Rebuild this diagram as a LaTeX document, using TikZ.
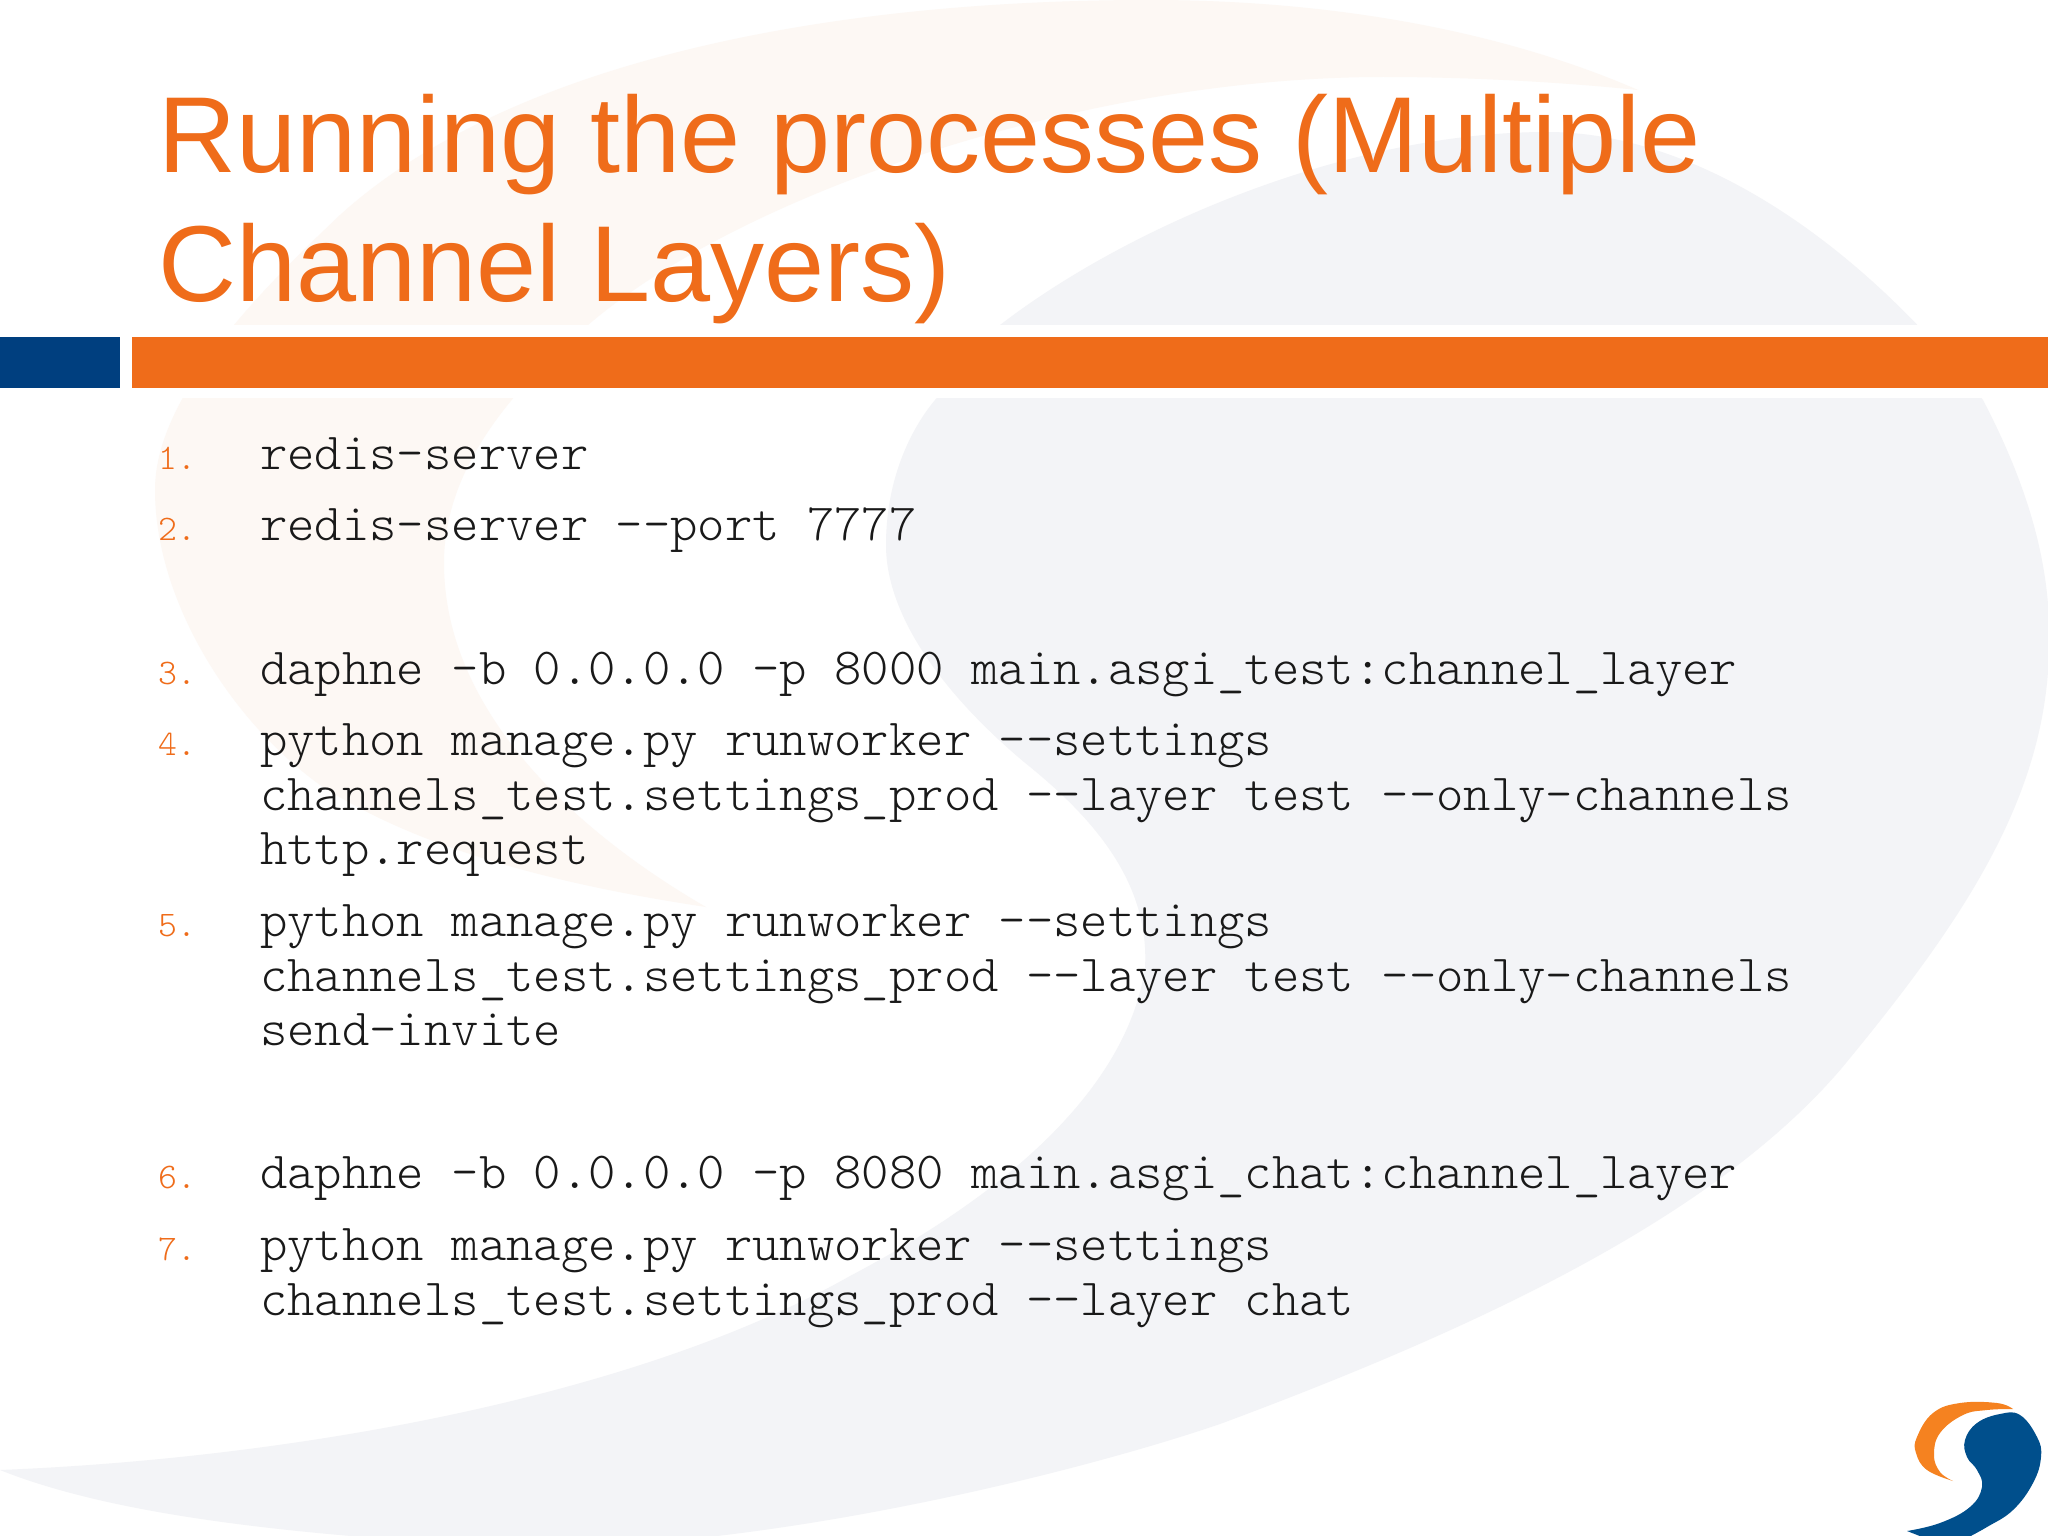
\documentclass[tikz,border=0pt]{standalone}
\usepackage{fontspec}
\setmainfont{Liberation Sans}
\newfontfamily\codefont{Latin Modern Mono Light}
\definecolor{slideorange}{HTML}{EF6C1A}
\definecolor{slideblue}{HTML}{003F7F}
\definecolor{wmorange}{HTML}{FDF8F4}
\definecolor{wmblue}{HTML}{F3F4F7}
\definecolor{logoorange}{HTML}{F58220}
\definecolor{logoblue}{HTML}{004F8C}
\tikzset{
  titleline/.style={anchor=base west,inner sep=0pt,text=slideorange,font=\fontsize{108}{130}\selectfont},
  codeline/.style={anchor=base west,inner sep=0pt,text=black!90,font=\codefont\fontsize{52.1}{54.5}\selectfont},
  numline/.style={anchor=base west,inner sep=0pt,text=slideorange,font=\codefont\fontsize{36}{40}\selectfont},
}
\begin{document}
\begin{tikzpicture}[x=1pt,y=-1pt]
\useasboundingbox (0,0) rectangle (2048,1536);
\clip (0,0) rectangle (2048,1536);
\fill[white] (0,0) rectangle (2048,1536);
% watermark: orange crescent
\fill[wmorange] (1638,90) .. controls (1500,30) and (1330,0) .. (1150,0)
  .. controls (800,0) and (500,70) .. (340,215)
  .. controls (250,300) and (155,400) .. (155,490)
  .. controls (155,600) and (230,720) .. (320,785)
  .. controls (420,850) and (560,885) .. (706,907)
  .. controls (590,840) and (444,720) .. (444,563)
  .. controls (444,470) and (510,390) .. (588,325)
  .. controls (740,195) and (1080,77) .. (1383,77)
  .. controls (1470,77) and (1560,82) .. (1638,90) -- cycle;
% watermark: blue swoosh
\fill[wmblue] (0,1470) .. controls (300,1458) and (640,1395) .. (850,1276)
  .. controls (985,1205) and (1125,1100) .. (1145,968)
  .. controls (1150,880) and (1090,815) .. (1024,762)
  .. controls (950,700) and (886,620) .. (886,545)
  .. controls (886,480) and (910,430) .. (935,400)
  -- (1000,325)
  .. controls (1130,225) and (1350,132) .. (1547,132)
  .. controls (1680,132) and (1840,220) .. (1983,400)
  .. controls (2030,490) and (2052,570) .. (2049,650)
  .. controls (2046,800) and (1960,925) .. (1841,1069)
  .. controls (1720,1210) and (1500,1320) .. (1220,1424)
  .. controls (1100,1465) and (850,1530) .. (620,1545)
  -- (430,1542)
  .. controls (250,1530) and (100,1510) .. (0,1470) -- cycle;
% white band behind the rule
\fill[white] (0,325) rectangle (2048,398);
% rule
\fill[slideblue] (0,337) rectangle (120,388);
\fill[slideorange] (132,337) rectangle (2048,388);
% logo
\fill[logoorange] plot[smooth,tension=0.7] coordinates {(2013,1409) (1997,1403) (1960,1403) (1933,1413) (1917,1437) (1916,1453) (1927,1470) (1953,1481)}
  -- plot[smooth,tension=0.7] coordinates {(1953,1481) (1940,1472) (1934,1455) (1940,1433) (1963,1415) (1987,1410) (2013,1409)} -- cycle;
\fill[logoblue] plot[smooth,tension=0.7] coordinates {(1907,1531) (1940,1523) (1970,1507) (1982,1487) (1977,1470) (1967,1457) (1965,1440) (1977,1423) (2000,1414) (2020,1415) (2037,1437) (2041,1457) (2033,1483) (2013,1510) (1987,1527) (1963,1540)}
  -- (1930,1540) -- cycle;
% title
\node[titleline] (title1) at (158,172) {Running the processes (Multiple};
\node[titleline] (title2) at (158,301.5) {Channel Layers)};
% numbers
\node[numline] (n1) at (158,469) {1.};
\node[numline] (n2) at (158,540) {2.};
\node[numline] (n3) at (158,684) {3.};
\node[numline] (n4) at (158,755) {4.};
\node[numline] (n5) at (158,936) {5.};
\node[numline] (n6) at (158,1188) {6.};
\node[numline] (n7) at (158,1260) {7.};
% commands
\node[codeline] (c1) at (260,469.5) {redis-server};
\node[codeline] (c2) at (260,540.5) {redis-server {-}{-}port 7777};
\node[codeline] (c3) at (260,684.5) {daphne -b 0.0.0.0 -p 8000 main.asgi\_test:channel\_layer};
\node[codeline] (c4a) at (260,755.5) {python manage.py runworker {-}{-}settings};
\node[codeline] (c4b) at (260,810) {channels\_test.settings\_prod {-}{-}layer test {-}{-}only-channels};
\node[codeline] (c4c) at (260,864.5) {http.request};
\node[codeline] (c5a) at (260,936.5) {python manage.py runworker {-}{-}settings};
\node[codeline] (c5b) at (260,991) {channels\_test.settings\_prod {-}{-}layer test {-}{-}only-channels};
\node[codeline] (c5c) at (260,1045.5) {send-invite};
\node[codeline] (c6) at (260,1188.5) {daphne -b 0.0.0.0 -p 8080 main.asgi\_chat:channel\_layer};
\node[codeline] (c7a) at (260,1260.5) {python manage.py runworker {-}{-}settings};
\node[codeline] (c7b) at (260,1315) {channels\_test.settings\_prod {-}{-}layer chat};
\end{tikzpicture}
\end{document}
